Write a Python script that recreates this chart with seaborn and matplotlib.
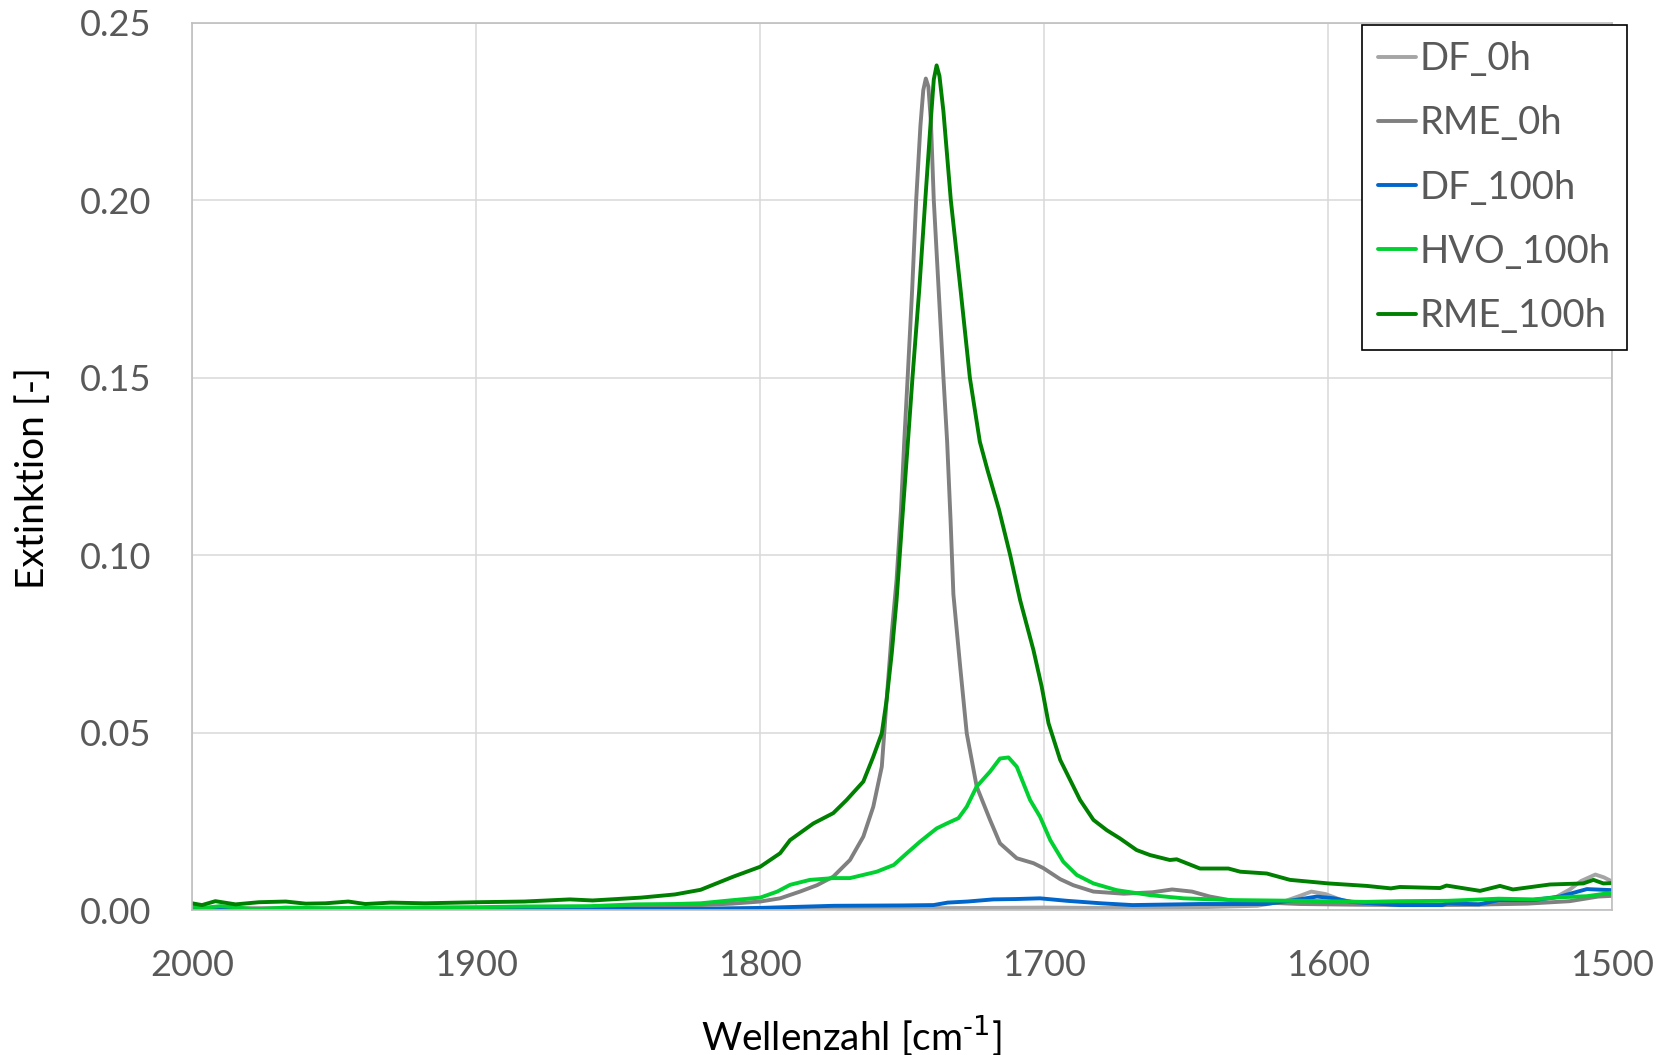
import pandas as pd
import seaborn as sns
import matplotlib
matplotlib.use('Agg')
import matplotlib.pyplot as plt
from matplotlib.ticker import FormatStrFormatter

# wavenumbers [cm-1] and extinction values
df0_wn = [2000, 1950, 1900, 1850, 1800, 1750, 1720, 1700, 1680, 1650, 1625, 1615, 1610,
          1606, 1601, 1595, 1587, 1570, 1545, 1530, 1520, 1515, 1511, 1506, 1503, 1500]
df0_ext = [0.0003, 0.0002, 0.0003, 0.0004, 0.0005, 0.0005, 0.0006, 0.0007, 0.0006, 0.0007,
           0.0012, 0.0026, 0.0040, 0.0052, 0.0045, 0.0027, 0.0019, 0.0015, 0.0016, 0.0022,
           0.0036, 0.0058, 0.0082, 0.0100, 0.0092, 0.0080]

rme0_wn = [2000, 1950, 1900, 1860, 1840, 1821, 1810, 1800, 1793, 1786, 1780, 1774.3, 1768.4,
           1763.7, 1760.2, 1757.2, 1755.5, 1753.7, 1752.0, 1750.5, 1749.3, 1748.1, 1746.5,
           1745.1, 1743.6, 1742.6, 1741.7, 1740.8, 1739.9, 1738.9, 1737.2, 1735.5, 1734.2,
           1733.0, 1732.0, 1729.6, 1727.3, 1723.8, 1719.1, 1715.6, 1709.7, 1703.8, 1700.3,
           1694.4, 1689.8, 1682.7, 1672, 1662, 1655, 1648, 1641.7, 1633.5, 1622, 1610, 1590,
           1570, 1550, 1530, 1515, 1505, 1500]
rme0_ext = [0.0005, 0.0005, 0.0006, 0.0008, 0.0010, 0.0014, 0.0018, 0.0024, 0.0033, 0.0052,
            0.0070, 0.0094, 0.0141, 0.0207, 0.0291, 0.0404, 0.0592, 0.0780, 0.0930, 0.1120,
            0.1320, 0.1500, 0.1750, 0.2000, 0.2210, 0.2310, 0.2343, 0.2320, 0.2220, 0.2000,
            0.1750, 0.1500, 0.1320, 0.1100, 0.0890, 0.0685, 0.0498, 0.0348, 0.0254, 0.0188,
            0.0146, 0.0132, 0.0118, 0.0087, 0.0070, 0.0052, 0.0046, 0.0050, 0.0058, 0.0052,
            0.0038, 0.0026, 0.0021, 0.0017, 0.0015, 0.0014, 0.0015, 0.0018, 0.0025, 0.0038,
            0.0040]

df100_wn = [2000, 1950, 1900, 1850, 1821, 1800, 1774, 1750, 1739, 1734, 1727, 1718, 1710,
            1701.5, 1692, 1680, 1669, 1645, 1622, 1612, 1604, 1598, 1592, 1575, 1560, 1558,
            1547, 1540, 1528, 1518.5, 1509, 1500]
df100_ext = [0.0000, 0.0001, 0.0002, 0.0003, 0.0003, 0.0006, 0.0012, 0.0013, 0.0014, 0.0021,
             0.0024, 0.0030, 0.0031, 0.0033, 0.0026, 0.0019, 0.0014, 0.0017, 0.0017, 0.0028,
             0.0038, 0.0033, 0.0023, 0.0014, 0.0014, 0.0019, 0.0016, 0.0028, 0.0028, 0.0038,
             0.0059, 0.0056]

hvo100_wn = [2000, 1995, 1990, 1985, 1978, 1967, 1953, 1930, 1900, 1883, 1860, 1844, 1830,
             1821, 1809.5, 1800, 1794, 1789.5, 1782.5, 1774.3, 1768.4, 1759, 1753, 1748.4,
             1743.7, 1737.9, 1734.3, 1730.2, 1727.3, 1723.8, 1719.1, 1715.6, 1712.6, 1709.7,
             1705, 1701.5, 1697.9, 1693.3, 1688.6, 1682.7, 1674.5, 1662.8, 1651, 1633.5, 1610,
             1587, 1575, 1558, 1540, 1528, 1518.5, 1509, 1500]
hvo100_ext = [0.0009, 0.0007, 0.0011, 0.0008, 0.0002, 0.0007, 0.0005, 0.0007, 0.0008, 0.0010,
              0.0011, 0.0016, 0.0017, 0.0019, 0.0028, 0.0035, 0.0052, 0.0071, 0.0085, 0.0090,
              0.0090, 0.0108, 0.0127, 0.0160, 0.0193, 0.0230, 0.0244, 0.0259, 0.0291, 0.0348,
              0.0390, 0.0427, 0.0430, 0.0404, 0.0310, 0.0263, 0.0197, 0.0136, 0.0099, 0.0075,
              0.0056, 0.0042, 0.0033, 0.0028, 0.0026, 0.0023, 0.0025, 0.0026, 0.0032, 0.0030,
              0.0036, 0.0039, 0.0049]

rme100_wn = [2000, 1996.5, 1991.8, 1984.7, 1976.5, 1967, 1960, 1953, 1945, 1939, 1930, 1918,
             1900, 1883, 1867, 1859, 1842, 1830, 1821, 1809.5, 1800, 1793, 1789.5, 1781.3,
             1774.3, 1769.6, 1763.7, 1760.2, 1757.2, 1755.5, 1753.7, 1752, 1750, 1748, 1746.4,
             1744, 1741.9, 1740, 1738.9, 1737.9, 1736.9, 1735.5, 1732.9, 1729.5, 1726.2, 1722.7,
             1720, 1716, 1712, 1708.5, 1703.8, 1700.9, 1698.5, 1694.4, 1687.4, 1682.7, 1678,
             1673.4, 1667.5, 1662.8, 1655.8, 1653.4, 1645.2, 1635.2, 1631, 1621.7, 1613.5, 1600,
             1586.5, 1578, 1574.8, 1560.7, 1558.4, 1546.6, 1539.6, 1535, 1522, 1510.3, 1506.7,
             1503.2, 1500]
rme100_ext = [0.0019, 0.0014, 0.0025, 0.0016, 0.0022, 0.0024, 0.0018, 0.0019, 0.0024, 0.0017,
              0.0021, 0.0019, 0.0022, 0.0024, 0.0030, 0.0027, 0.0035, 0.0044, 0.0057, 0.0094,
              0.0122, 0.0160, 0.0197, 0.0244, 0.0273, 0.0310, 0.0362, 0.0432, 0.0498, 0.0592,
              0.0723, 0.0873, 0.1100, 0.1320, 0.1500, 0.1750, 0.2000, 0.2220, 0.2340, 0.2380,
              0.2350, 0.2250, 0.2000, 0.1750, 0.1500, 0.1320, 0.1240, 0.1130, 0.1000, 0.0873,
              0.0732, 0.0629, 0.0526, 0.0423, 0.0310, 0.0254, 0.0225, 0.0202, 0.0169, 0.0155,
              0.0141, 0.0143, 0.0117, 0.0117, 0.0108, 0.0103, 0.0085, 0.0075, 0.0068, 0.0061,
              0.0065, 0.0062, 0.0069, 0.0054, 0.0068, 0.0058, 0.0072, 0.0075, 0.0085, 0.0075,
              0.0076]

series = {
    'DF_0h': (df0_wn, df0_ext),
    'RME_0h': (rme0_wn, rme0_ext),
    'DF_100h': (df100_wn, df100_ext),
    'HVO_100h': (hvo100_wn, hvo100_ext),
    'RME_100h': (rme100_wn, rme100_ext),
}
colors = {'DF_0h': '#A5A5A5', 'RME_0h': '#808080', 'DF_100h': '#0066CC',
          'HVO_100h': '#00D030', 'RME_100h': '#008000'}

frames = []
for name, (wn, ext) in series.items():
    frames.append(pd.DataFrame({'wn': wn, 'ext': ext, 'Probe': name}))
df = pd.concat(frames, ignore_index=True)

sns.set_theme(style="white")
plt.rcParams['font.family'] = ['Lato', 'DejaVu Sans']

fig = plt.figure(figsize=(16.73, 10.55), dpi=100)
ax = fig.add_axes([0.1148, 0.1374, 0.849, 0.841])

sns.lineplot(data=df, x='wn', y='ext', hue='Probe', palette=colors,
             hue_order=list(series.keys()), estimator=None, linewidth=2.8, ax=ax)

ax.set_xlim(2000, 1500)
ax.set_ylim(0, 0.25)
ax.set_xticks([2000, 1900, 1800, 1700, 1600, 1500])
ax.set_yticks([0, 0.05, 0.10, 0.15, 0.20, 0.25])
ax.yaxis.set_major_formatter(FormatStrFormatter('%.2f'))
ax.grid(True, color='#D9D9D9', linewidth=1.1)
ax.set_axisbelow(True)
for sp in ax.spines.values():
    sp.set_color('#BFBFBF')
    sp.set_linewidth(1.2)
ax.tick_params(axis='both', length=0, labelsize=26, labelcolor='#595959')
ax.tick_params(axis='y', pad=29)
ax.tick_params(axis='x', pad=28)

ax.set_xlabel('Wellenzahl [cm$^{\\text{-1}}$]', fontsize=28, color='black', va='center')
ax.set_ylabel('Extinktion [-]', fontsize=28, color='black', va='center')
ax.xaxis.set_label_coords(0.464, -0.141)
ax.yaxis.set_label_coords(-0.112, 0.487)

handles, labels = ax.get_legend_handles_labels()
leg = ax.legend(handles, labels, loc='upper right', bbox_to_anchor=(0.9725, 0.9763),
                bbox_transform=fig.transFigure, fontsize=27.5, frameon=True, fancybox=False,
                framealpha=1, edgecolor='black', handlelength=1.0, handletextpad=0.1,
                labelspacing=0.74, borderpad=0.42, borderaxespad=0)
leg.get_frame().set_linewidth(1.2)
for t in leg.get_texts():
    t.set_color('#595959')
for h in leg.get_lines():
    h.set_linewidth(2.8)

fig.savefig('out.png', dpi=100)
